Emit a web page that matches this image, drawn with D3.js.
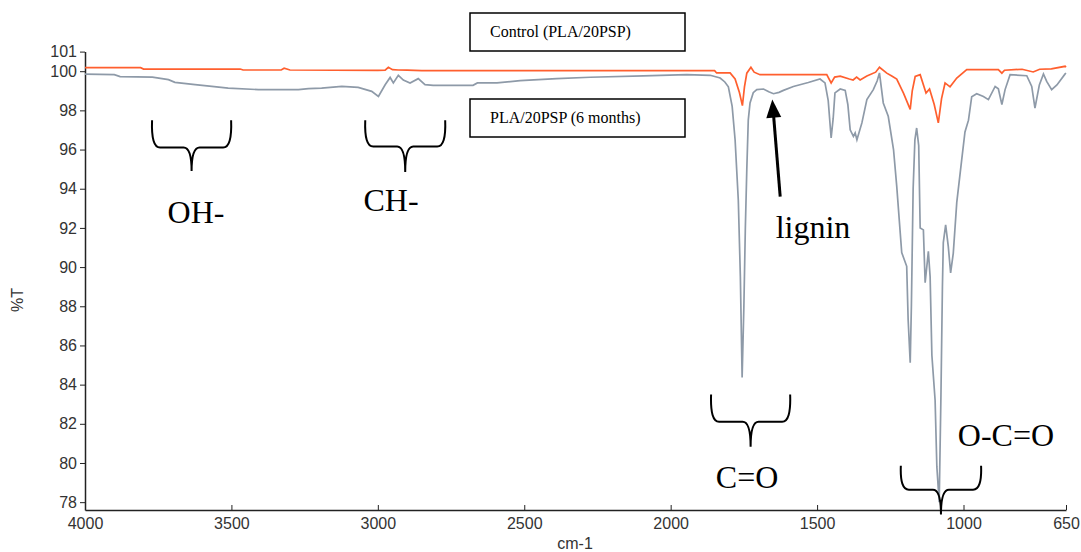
<!DOCTYPE html>
<html>
<head>
<meta charset="utf-8">
<script src="https://cdn.jsdelivr.net/npm/d3@7"></script>
<style>
  body { margin: 0; background: #fff; }
  svg { display: block; }
</style>
</head>
<body>
<div class="graphics"></div>
<script>
// spectra (wavenumber cm-1, %T)
var controlWn = [4000, 3810, 3800, 3470, 3460, 3330, 3320, 3300, 3000, 2975, 2964, 2950, 2930, 2900, 2850,
  1850, 1843, 1797, 1780, 1765, 1755, 1748, 1740, 1726, 1715, 1695, 1467, 1452, 1440, 1421, 1390, 1377,
  1365, 1353, 1330, 1300, 1287, 1262, 1245, 1228, 1205, 1182, 1175, 1165, 1148, 1128, 1116, 1100, 1086,
  1075, 1063, 1046, 1023, 989, 881, 869, 860, 800, 762, 740, 700, 653, 650];
var controlT = [100.18, 100.18, 100.11, 100.11, 100.06, 100.06, 100.15, 100.06, 100.04, 100.05, 100.2, 100.08,
  100.06, 100.05, 100.03, 100.03, 99.91, 99.91, 99.6, 98.9, 98.24, 99.2, 99.9, 100.2, 99.95, 99.82, 99.82,
  99.4, 99.7, 99.75, 99.6, 99.55, 99.7, 99.55, 99.75, 99.95, 100.2, 99.9, 99.75, 99.6, 98.88, 98.05, 99.0,
  99.73, 99.82, 98.88, 99.09, 98.3, 97.36, 98.6, 99.4, 99.2, 99.65, 100.08, 100.08, 99.9, 100.05, 100.1,
  99.96, 100.1, 100.12, 100.25, 100.2];

var agedWn = [4000, 3900, 3880, 3770, 3715, 3693, 3624, 3567, 3511, 3408, 3271, 3237, 3192, 3123, 3067, 3021,
  2998, 2975, 2958, 2947, 2930, 2913, 2890, 2862, 2839, 2811, 2675, 2660, 2593, 2514, 2389, 2275, 2093,
  1945, 1865, 1831, 1815, 1803, 1790, 1780, 1769, 1762, 1756, 1750, 1745, 1740, 1735, 1729, 1718, 1706,
  1683, 1665, 1649, 1630, 1615, 1581, 1530, 1490, 1473, 1462, 1452, 1445, 1439, 1421, 1404, 1395, 1387,
  1376, 1370, 1364, 1347, 1330, 1308, 1295, 1287, 1274, 1257, 1239, 1228, 1211, 1194, 1189, 1182, 1178,
  1172, 1166, 1160, 1153, 1148, 1137, 1131, 1120, 1114, 1108, 1097, 1091, 1083, 1077, 1072, 1069, 1061,
  1052, 1044, 1035, 1023, 1006, 995, 983, 972, 955, 932, 915, 892, 881, 869, 858, 841, 784, 767, 756,
  741, 727, 716, 699, 681, 653, 650];
var agedT = [99.85, 99.82, 99.72, 99.7, 99.57, 99.43, 99.31, 99.22, 99.14, 99.06, 99.06, 99.11, 99.14, 99.22,
  99.17, 98.97, 98.71, 99.31, 99.68, 99.4, 99.79, 99.55, 99.4, 99.62, 99.31, 99.28, 99.28, 99.4, 99.4,
  99.52, 99.62, 99.69, 99.76, 99.82, 99.79, 99.65, 99.45, 99.2, 98.2, 96.5, 93.4, 89.5, 84.36, 88.0, 92.0,
  95.0, 97.5, 98.38, 98.9, 99.06, 99.09, 98.95, 98.85, 98.92, 99.02, 99.22, 99.42, 99.6, 99.4, 98.5, 96.59,
  97.6, 98.89, 99.09, 99.02, 98.3, 97.01, 96.67, 96.85, 96.5, 97.36, 98.55, 99.06, 99.5, 99.91, 98.38,
  97.7, 96.0, 94.12, 90.74, 90.04, 87.3, 85.12, 88.0, 94.0, 96.5, 97.1, 96.2, 92.0, 91.9, 89.2, 90.8,
  89.5, 85.5, 83.2, 79.8, 78.0, 83.5, 89.0, 91.25, 92.16, 91.06, 89.7, 90.7, 93.3, 95.5, 96.9, 97.5,
  98.7, 98.85, 98.71, 98.55, 99.22, 99.1, 98.3, 99.06, 99.82, 99.77, 99.22, 98.12, 99.3, 99.86, 99.48,
  99.06, 99.3, 99.86, 99.9];

var xTicks = [4000, 3500, 3000, 2500, 2000, 1500, 1000, 650];
var yTicks = [78, 80, 82, 84, 86, 88, 90, 92, 94, 96, 98, 100, 101];

var legendLabels = ["Control (PLA/20PSP)", "PLA/20PSP (6 months)"];

// band labels: text, wavenumber, %T (baseline)
var bandNames = ["OH-", "CH-", "lignin", "C=O", "O-C=O"];
var bandWn = [3621, 2955, 1514, 1739, 855];
var bandT = [92.25, 92.85, 91.5, 78.7, 80.85];
// braces: left / right wavenumber, top, bottom, tip in %T
var braceL = [3771, 3043, 1862, 1214];
var braceR = [3501, 2770, 1592, 940];
var braceTop = [97.5, 97.5, 83.5, 79.86];
var braceBot = [96.1, 96.15, 82.1, 78.64];
var braceTip = [94.9, 94.85, 80.83, 77.37];

function spectrum() {
  var W = 1081, H = 552;
  var svg = d3.select(".graphics")
    .append("svg")
    .attr("width", W)
    .attr("height", H);

  var x = d3.scaleLinear().domain([4000, 650]).range([85, 1066]);
  var y = d3.scaleLinear().domain([77.6, 101]).range([510, 51.6]);

  // axes
  var gx = svg.append("g")
    .attr("transform", "translate(0,510)")
    .call(d3.axisBottom(x).tickValues(xTicks).tickSizeInner(-5).tickSizeOuter(0).tickPadding(8)
      .tickFormat(d3.format("d")));
  var gy = svg.append("g")
    .attr("transform", "translate(85,0)")
    .call(d3.axisLeft(y).tickValues(yTicks).tickSizeInner(5).tickSizeOuter(0).tickPadding(3)
      .tickFormat(d3.format("d")));
  [gx, gy].forEach(function(g) {
    g.select(".domain").attr("stroke", "#222").attr("stroke-width", 1.5);
    g.selectAll(".tick line").attr("stroke", "#222");
    g.selectAll("text")
      .style("font-family", "'Liberation Sans', Arial, sans-serif")
      .style("font-size", "16px")
      .attr("fill", "#333");
  });

  svg.append("text")
    .attr("x", 575).attr("y", 549)
    .attr("text-anchor", "middle")
    .style("font-family", "'Liberation Sans', Arial, sans-serif")
    .style("font-size", "16px")
    .attr("fill", "#333")
    .text("cm-1");
  svg.append("text")
    .attr("transform", "translate(23,300) rotate(-90)")
    .attr("text-anchor", "middle")
    .style("font-family", "'Liberation Sans', Arial, sans-serif")
    .style("font-size", "16px")
    .attr("fill", "#333")
    .text("%T");

  var line = d3.line()
    .x(function(d) { return x(d[0]); })
    .y(function(d) { return y(d[1]); });

  svg.append("path")
    .datum(d3.zip(agedWn, agedT))
    .attr("fill", "none")
    .attr("stroke", "#8e9aa8")
    .attr("stroke-width", 1.7)
    .attr("d", line);

  svg.append("path")
    .datum(d3.zip(controlWn, controlT))
    .attr("fill", "none")
    .attr("stroke", "#ff5f2e")
    .attr("stroke-width", 1.7)
    .attr("d", line);

  // legend boxes
  var boxY = [13, 99];
  legendLabels.forEach(function(lab, i) {
    svg.append("rect")
      .attr("x", 470).attr("y", boxY[i])
      .attr("width", 215).attr("height", 38)
      .attr("fill", "#fff")
      .attr("stroke", "#000")
      .attr("stroke-width", 1.5);
    svg.append("text")
      .attr("x", 490).attr("y", boxY[i] + 24)
      .style("font-family", "'Liberation Serif', 'Times New Roman', serif")
      .style("font-size", "16px")
      .attr("fill", "#000")
      .text(lab);
  });

  // braces
  braceL.forEach(function(l, i) {
    var x0 = x(l), x1 = x(braceR[i]), xc = (x0 + x1) / 2;
    var yt = y(braceTop[i]), yb = y(braceBot[i]), yp = y(braceTip[i]);
    var r = 8;
    var p = d3.path();
    p.moveTo(x0, yt);
    p.quadraticCurveTo(x0 - 1, yb, x0 + r, yb);
    p.lineTo(xc - r, yb);
    p.quadraticCurveTo(xc, yb, xc, yp);
    p.moveTo(xc, yp);
    p.quadraticCurveTo(xc, yb, xc + r, yb);
    p.lineTo(x1 - r, yb);
    p.quadraticCurveTo(x1 + 1, yb, x1, yt);
    svg.append("path")
      .attr("d", p.toString())
      .attr("fill", "none")
      .attr("stroke", "#000")
      .attr("stroke-width", 2);
  });

  // band labels
  bandNames.forEach(function(n, i) {
    svg.append("text")
      .attr("x", x(bandWn[i])).attr("y", y(bandT[i]))
      .attr("text-anchor", "middle")
      .style("font-family", "'Liberation Serif', 'Times New Roman', serif")
      .style("font-size", "32px")
      .attr("fill", "#000")
      .text(n);
  });

  // arrow pointing at the lignin shoulder
  var ax0 = x(1626), ay0 = y(93.6), ax1 = x(1653), ay1 = y(98.55);
  svg.append("line")
    .attr("x1", ax0).attr("y1", ay0)
    .attr("x2", ax1 + (ax0 - ax1) * 0.15).attr("y2", ay1 + (ay0 - ay1) * 0.15)
    .attr("stroke", "#000")
    .attr("stroke-width", 3);
  var ang = Math.atan2(ay1 - ay0, ax1 - ax0);
  var hl = 18, hw = 7.5;
  var bx = ax1 - hl * Math.cos(ang), by = ay1 - hl * Math.sin(ang);
  svg.append("path")
    .attr("d", "M" + ax1 + "," + ay1 +
      "L" + (bx + hw * Math.sin(ang)) + "," + (by - hw * Math.cos(ang)) +
      "L" + (bx - hw * Math.sin(ang)) + "," + (by + hw * Math.cos(ang)) + "Z")
    .attr("fill", "#000");
}

spectrum();
</script>
</body>
</html>
